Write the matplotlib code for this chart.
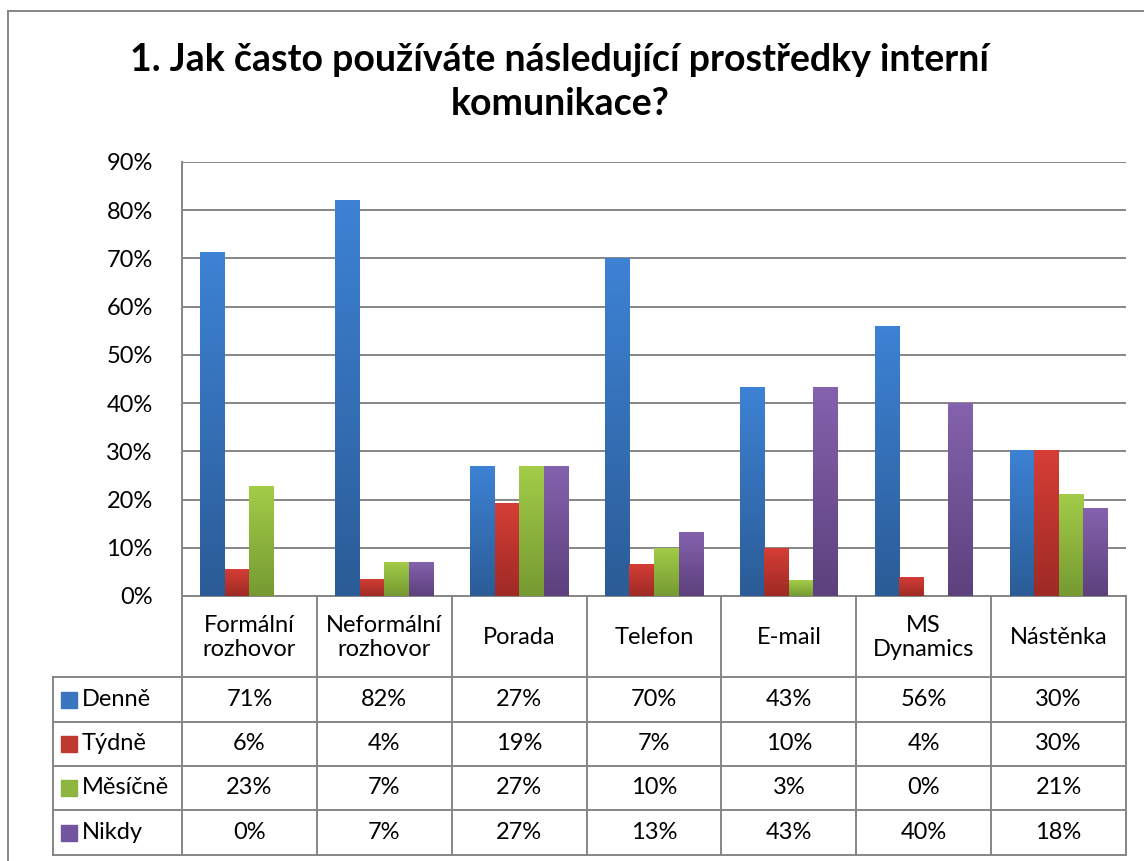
import matplotlib.pyplot as plt
import numpy as np
from matplotlib.colors import LinearSegmentedColormap
from matplotlib.patches import Rectangle
from matplotlib.transforms import blended_transform_factory

plt.rcParams["font.family"] = ["Lato", "DejaVu Sans"]

# ---------------------------------------------------------------------
# Data
# ---------------------------------------------------------------------
categories = ["Formální\nrozhovor", "Neformální\nrozhovor", "Porada", "Telefon",
              "E-mail", "MS\nDynamics", "Nástěnka"]
series = ["Denně", "Týdně", "Měsíčně", "Nikdy"]
denne = [71.4, 82.1, 27.0, 70.0, 43.3, 56.0, 30.3]
tydne = [5.7, 3.6, 19.3, 6.7, 10.0, 4.0, 30.3]
mesicne = [22.9, 7.1, 27.0, 10.0, 3.3, 0.0, 21.2]
nikdy = [0.0, 7.1, 27.0, 13.3, 43.3, 40.0, 18.2]
values = [denne, tydne, mesicne, nikdy]

# (top, bottom) gradient colours per series
grads = [("#3d82d4", "#2b5c97"), ("#d63e36", "#9e2a25"),
         ("#a3cc48", "#769a32"), ("#8462ad", "#5c417d")]
keys = ["#3a76c0", "#c0392f", "#8db53f", "#7354a0"]

title = "1. Jak často používáte následující prostředky interní\nkomunikace?"

# ---------------------------------------------------------------------
# Figure
# ---------------------------------------------------------------------
W, H = 1144, 861
fig = plt.figure(figsize=(W / 100, H / 100), dpi=100)

L, R, T, B = 182, 1126, 162, 596
ax = fig.add_axes([L / W, 1 - B / H, (R - L) / W, (B - T) / H])

n = len(categories)
x = np.arange(n)
bw = 1 / 5.5
grid_c = "#868686"
fs = 17

for s, vals in enumerate(values):
    cmap = LinearSegmentedColormap.from_list(f"g{s}", [grads[s][1], grads[s][0]])
    offs = (s - 1.5) * bw
    bars = ax.bar(x + offs, vals, bw, color="none", zorder=3)
    for b in bars:
        h = b.get_height()
        if h <= 0:
            continue
        x0 = b.get_x()
        grad = np.linspace(0, 1, 64).reshape(-1, 1)
        im = ax.imshow(grad, cmap=cmap, origin="lower", aspect="auto",
                       extent=[x0, x0 + bw, 0, h], zorder=3)
        im.set_clip_path(b)

ax.set_xlim(-0.5, n - 0.5)
ax.set_ylim(0, 90)
ax.set_yticks(np.arange(0, 91, 10))
ax.set_yticklabels([f"{v}%" for v in range(0, 91, 10)], fontsize=fs)
ax.tick_params(axis="y", length=0, pad=21)
ax.set_xticks([])
ax.grid(axis="y", color=grid_c, linewidth=1.4, zorder=0)
for sp in ["top", "right"]:
    ax.spines[sp].set_visible(False)
for sp in ["left", "bottom"]:
    ax.spines[sp].set_color(grid_c)
    ax.spines[sp].set_linewidth(1.4)

# ---------------------------------------------------------------------
# Data table below the axis
# ---------------------------------------------------------------------
tr = blended_transform_factory(ax.transData, fig.transFigure)


def fy(py):
    return 1 - py / H


head_bot = 677
row_edges = [677, 722, 766, 810, 855]
leg_left = (53 - L) / ((R - L) / n) - 0.5
lw = 1.4

# header vertical lines and text
for i in range(n + 1):
    ax.add_line(plt.Line2D([i - 0.5, i - 0.5], [fy(B), fy(855)], transform=tr,
                           color=grid_c, lw=lw, clip_on=False))
for i, c in enumerate(categories):
    ax.text(i, fy((B + head_bot) / 2 + 1), c, transform=tr, ha="center", va="center",
            fontsize=fs, linespacing=1.2, clip_on=False)

# horizontal lines
for yy in row_edges:
    ax.add_line(plt.Line2D([leg_left, n - 0.5], [fy(yy), fy(yy)], transform=tr,
                           color=grid_c, lw=lw, clip_on=False))
ax.add_line(plt.Line2D([leg_left, leg_left], [fy(row_edges[0]), fy(row_edges[-1])],
                       transform=tr, color=grid_c, lw=lw, clip_on=False))

for s, name in enumerate(series):
    yc = (row_edges[s] + row_edges[s + 1]) / 2
    fig.patches.append(Rectangle(((61) / W, fy(yc + 8)), 16 / W, 16 / H,
                                 transform=fig.transFigure, color=keys[s]))
    fig.text(82 / W, fy(yc), name, ha="left", va="center", fontsize=fs)
    for i, v in enumerate(values[s]):
        ax.text(i, fy(yc), f"{round(v)}%", transform=tr, ha="center", va="center",
                fontsize=fs, clip_on=False)

# title
fig.text(560 / W, fy(82), title, ha="center", va="center", fontsize=27,
         fontweight="bold", linespacing=1.35)

# outer frame
fig.add_artist(plt.Line2D([8 / W, 8 / W], [0, fy(11)], transform=fig.transFigure,
                          color=grid_c, lw=1.4))
fig.add_artist(plt.Line2D([8 / W, 1], [fy(11), fy(11)], transform=fig.transFigure,
                          color=grid_c, lw=1.4))

fig.savefig("out.png", dpi=100)
plt.close(fig)
